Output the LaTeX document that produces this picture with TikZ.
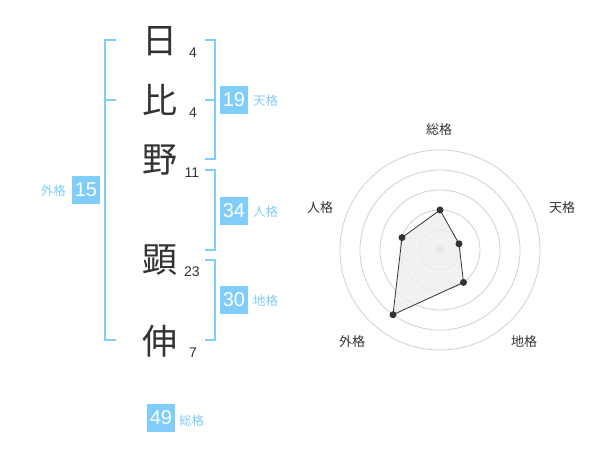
\documentclass[tikz,border=0pt]{standalone}
\usepackage{fontspec}
\setmainfont{Liberation Sans}
\newfontfamily\cjk{Noto Sans CJK JP}
\definecolor{skyb}{RGB}{128,204,250}
\definecolor{ink}{RGB}{51,51,51}
\definecolor{ring}{RGB}{208,208,208}
\definecolor{polyfill}{RGB}{238,238,238}
\tikzset{
  kanji/.style={font=\cjk\fontsize{35}{35}\selectfont, text=ink, inner sep=0pt},
  strokes/.style={font=\fontsize{14}{14}\selectfont, text=ink, inner sep=0pt},
  numbox/.style={fill=skyb, text=white, minimum width=28pt, minimum height=28pt, inner sep=0pt, font=\fontsize{20}{20}\selectfont},
  kaku/.style={font=\cjk\fontsize{12.5}{12.5}\selectfont, text=skyb, inner sep=0pt},
  bracket/.style={draw=skyb, line width=2pt},
  ringline/.style={draw=ring, line width=0.8pt},
  axlabel/.style={font=\cjk\fontsize{13}{13}\selectfont, text=ink, inner sep=0pt},
  datadot/.style={circle, fill=ink, inner sep=0pt, minimum size=7pt},
}
\begin{document}
\begin{tikzpicture}[x=1pt,y=-1pt]
\useasboundingbox (0,0) rectangle (600,470);
% characters
\node[kanji] (k1) at (160,41) {日};
\node[kanji] (k2) at (160,100) {比};
\node[kanji] (k3) at (160,160) {野};
\node[kanji] (k4) at (160,260) {顕};
\node[kanji] (k5) at (160,341) {伸};
\node[strokes] (s1) at (193,53) {4};
\node[strokes] (s2) at (193,113) {4};
\node[strokes] (s3) at (192,173) {11};
\node[strokes] (s4) at (192,272) {23};
\node[strokes] (s5) at (193,353) {7};
% brackets
\coordinate (la) at (116,40); \coordinate (lb) at (105,40);
\coordinate (lc) at (105,340); \coordinate (ld) at (116,340);
\coordinate (lm1) at (105,100); \coordinate (lm2) at (116,100);
\draw[bracket] (la) -- (lb) -- (lc) -- (ld);
\draw[bracket] (lm1) -- (lm2);
\coordinate (t1) at (205,40); \coordinate (t2) at (215,40);
\coordinate (t3) at (215,159); \coordinate (t4) at (205,159);
\coordinate (tm1) at (215,100); \coordinate (tm2) at (205,100);
\draw[bracket] (t1) -- (t2) -- (t3) -- (t4);
\draw[bracket] (tm1) -- (tm2);
\coordinate (j1) at (205,170); \coordinate (j2) at (215,170);
\coordinate (j3) at (215,250); \coordinate (j4) at (205,250);
\draw[bracket] (j1) -- (j2) -- (j3) -- (j4);
\coordinate (c1) at (205,260); \coordinate (c2) at (215,260);
\coordinate (c3) at (215,340); \coordinate (c4) at (205,340);
\draw[bracket] (c1) -- (c2) -- (c3) -- (c4);
% number boxes
\node[numbox] (b15) at (86,190) {15};
\node[kaku, anchor=east] (l15) at (66,191) {外格};
\node[numbox] (b19) at (234,100) {19};
\node[kaku, anchor=west] (l19) at (253,101) {天格};
\node[numbox] (b34) at (234,211) {34};
\node[kaku, anchor=west] (l34) at (253,212) {人格};
\node[numbox] (b30) at (234,300) {30};
\node[kaku, anchor=west] (l30) at (253,301) {地格};
\node[numbox] (b49) at (161,418) {49};
\node[kaku, anchor=west] (l49) at (179,421) {総格};
% radar chart
\coordinate (cen) at (440,250);
\foreach \r in {20,40,60,80,100} \draw[ringline] (cen) circle[radius=\r];
\fill[ring] (cen) circle[radius=4];
\coordinate (p1) at (440,210);
\coordinate (p2) at (459.0,243.8);
\coordinate (p3) at (463.5,282.4);
\coordinate (p4) at (393.0,314.7);
\coordinate (p5) at (402.0,237.6);
\filldraw[fill=polyfill, fill opacity=0.8, draw=ink, line width=0.8pt] (p1) -- (p2) -- (p3) -- (p4) -- (p5) -- cycle;
\foreach \p in {p1,p2,p3,p4,p5} \node[datadot] at (\p) {};
\node[axlabel] (a1) at (439,130) {総格};
\node[axlabel] (a2) at (562,208) {天格};
\node[axlabel] (a3) at (524,342) {地格};
\node[axlabel] (a4) at (352,342) {外格};
\node[axlabel] (a5) at (320,208) {人格};
\end{tikzpicture}
\end{document}
